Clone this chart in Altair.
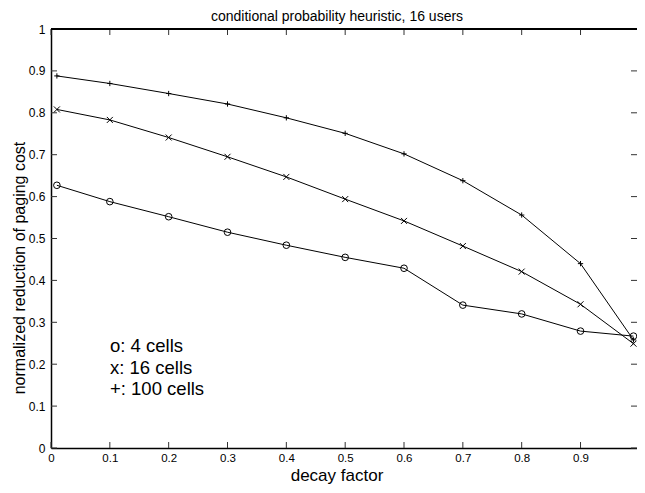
import altair as alt
import pandas as pd

# ---- data ----
decay = [0.01, 0.1, 0.2, 0.3, 0.4, 0.5, 0.6, 0.7, 0.8, 0.9, 0.99]
cells4 = [0.627, 0.588, 0.552, 0.515, 0.484, 0.455, 0.429, 0.341, 0.320, 0.279, 0.267]
cells16 = [0.808, 0.783, 0.741, 0.695, 0.647, 0.594, 0.542, 0.482, 0.421, 0.343, 0.249]
cells100 = [0.888, 0.870, 0.846, 0.821, 0.788, 0.751, 0.702, 0.638, 0.556, 0.440, 0.258]
series_keys = ["4 cells", "16 cells", "100 cells"]
legend_lines = ["o: 4 cells", "x: 16 cells", "+: 100 cells"]
tick_values = [0, 0.1, 0.2, 0.3, 0.4, 0.5, 0.6, 0.7, 0.8, 0.9, 1]
title_text = "conditional probability heuristic, 16 users"
x_title = "decay factor"
y_title = "normalized reduction of paging cost"

W, H = 586, 419
FONT = "Liberation Sans"
TL = 6    # inward tick length
CX = 286  # horizontal centre of the titles, from the plot's left edge

rows = []
for key, vals in zip(series_keys, [cells4, cells16, cells100]):
    for d, v in zip(decay, vals):
        rows.append({"decay": d, "value": v, "series": key})
df = pd.DataFrame(rows)
ticks = pd.DataFrame({"t": tick_values})

xs = alt.Scale(domain=[0, 0.996], nice=False, zero=False)
ys = alt.Scale(domain=[0, 1], nice=False, zero=False)

x_enc = alt.X("decay:Q", scale=xs, axis=alt.Axis(
    values=tick_values, format="~g", ticks=False, tickSize=0, grid=False,
    labelPadding=4, labelFontSize=11.5, labelFont=FONT, labelColor="black",
    labelFlush=False, labelOverlap=False,
    domainColor="black", domainWidth=1.5, title=None))
y_enc = alt.Y("value:Q", scale=ys, axis=alt.Axis(
    values=tick_values, format="~g", ticks=False, tickSize=0, grid=False,
    labelPadding=6, labelFontSize=12, labelFont=FONT, labelColor="black",
    labelFlush=False, labelOverlap=False,
    domainColor="black", domainWidth=1.5, title=None))

lines = alt.Chart(df).mark_line(color="black", strokeWidth=1).encode(
    x=x_enc, y=y_enc, detail="series:N")

shape_scale = alt.Scale(domain=series_keys, range=[
    "circle", "M-1,-1L1,1M-1,1L1,-1", "M-1,0L1,0M0,-1L0,1"])
size_scale = alt.Scale(domain=series_keys, range=[44, 28, 48])
points = alt.Chart(df).mark_point(filled=False, color="black", strokeWidth=1, opacity=1).encode(
    x=alt.X("decay:Q", scale=xs), y=alt.Y("value:Q", scale=ys),
    shape=alt.Shape("series:N", scale=shape_scale, legend=None),
    size=alt.Size("series:N", scale=size_scale, legend=None))

tick_style = dict(color="#333333", strokeWidth=1)
left_t = alt.Chart(ticks).mark_rule(**tick_style).encode(
    y=alt.Y("t:Q", scale=ys), x=alt.value(0), x2=alt.value(TL))
right_t = alt.Chart(ticks).mark_rule(**tick_style).encode(
    y=alt.Y("t:Q", scale=ys), x=alt.value(W - TL), x2=alt.value(W))
bottom_t = alt.Chart(ticks).mark_rule(**tick_style).encode(
    x=alt.X("t:Q", scale=xs), y=alt.value(H), y2=alt.value(H - TL))
top_t = alt.Chart(ticks).mark_rule(**tick_style).encode(
    x=alt.X("t:Q", scale=xs), y=alt.value(0), y2=alt.value(TL))
top_border = alt.Chart(ticks).mark_rule(color="black", strokeWidth=1.5).encode(
    x=alt.value(0), x2=alt.value(W), y=alt.value(0))

def label(text, size, x, y, angle=0, align="center"):
    return alt.Chart(pd.DataFrame({"label": [text]})).mark_text(
        align=align, baseline="alphabetic", font=FONT, fontSize=size,
        color="black", angle=angle
    ).encode(text="label:N", x=alt.value(x), y=alt.value(y))

title_mark = label(title_text, 14, CX, -8)
xtitle_mark = label(x_title, 17, CX, H + 33)
ytitle_mark = label(y_title, 16, -26.5, 239, angle=270)

texts = [label(lab, 18.5, 59, 323 + 21.5 * i, align="left")
         for i, lab in enumerate(legend_lines)]

chart = alt.layer(lines, points, left_t, right_t, bottom_t, top_t, top_border,
                  title_mark, xtitle_mark, ytitle_mark, *texts).properties(
    width=W, height=H,
    autosize=alt.AutoSizeParams(type="none"),
    padding={"left": 43, "top": 21, "right": 0, "bottom": 37},
).configure_view(stroke=None).configure(background="white")

chart.save("out.html", embed_options={"renderer": "svg", "actions": False})
